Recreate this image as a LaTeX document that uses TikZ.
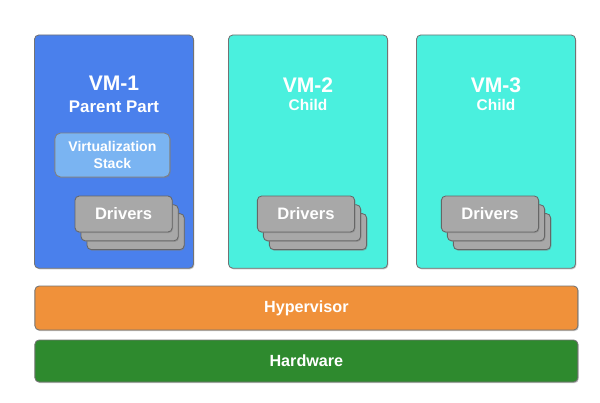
\documentclass[tikz,border=0pt]{standalone}
\usepackage{fontspec}
\setmainfont{Liberation Sans}
\usetikzlibrary{shadows}

\definecolor{vmblue}{RGB}{74,128,236}
\definecolor{vmcyan}{RGB}{74,240,222}
\definecolor{stackblue}{RGB}{122,180,242}
\definecolor{drvgray}{RGB}{168,168,168}
\definecolor{hvorange}{RGB}{240,145,58}
\definecolor{hwgreen}{RGB}{46,138,46}

\begin{document}
\begin{tikzpicture}[
  font=\bfseries, text=white,
  vm/.style={rectangle, rounded corners=3pt, draw=black!55, line width=0.6pt, minimum width=3.975cm, minimum height=5.83cm, drop shadow={shadow xshift=0.6pt, shadow yshift=-0.8pt, opacity=0.45}},
  card/.style={rectangle, rounded corners=3pt, draw=black!60, line width=0.6pt, fill=drvgray, minimum width=2.43cm, minimum height=0.9cm, font=\bfseries\fontsize{11.8}{13}\selectfont, drop shadow={shadow xshift=0.6pt, shadow yshift=-0.8pt, opacity=0.5}},
  layer/.style={rectangle, rounded corners=3pt, draw=black!55, line width=0.6pt, minimum width=13.575cm, font=\bfseries\fontsize{11.5}{13}\selectfont, drop shadow={shadow xshift=0.6pt, shadow yshift=-0.8pt, opacity=0.45}},
  title/.style={font=\bfseries\fontsize{15}{17}\selectfont},
  sub/.style={font=\bfseries\fontsize{11}{13}\selectfont}
]
\useasboundingbox (0,0) rectangle (15,-10.075);
% virtual machines
\node[vm, fill=vmblue] (vmone)   at (2.85,-3.79) {};
\node[vm, fill=vmcyan] (vmtwo)   at (7.70,-3.79) {};
\node[vm, fill=vmcyan] (vmthree) at (12.40,-3.79) {};
\node[title] (tone)   at (2.85,-2.08)  {VM-1};
\node[sub, font=\bfseries\fontsize{12}{14}\selectfont] (sone) at (2.85,-2.67) {Parent Part};
\node[title] (ttwo)   at (7.70,-2.12)  {VM-2};
\node[sub]   (stwo)   at (7.70,-2.63)  {Child};
\node[title] (tthree) at (12.40,-2.12) {VM-3};
\node[sub]   (sthree) at (12.40,-2.63) {Child};
\node[rectangle, rounded corners=4pt, draw=black!50, line width=0.6pt, fill=stackblue, minimum width=2.875cm, minimum height=1.1cm, align=center, font=\bfseries\fontsize{10}{11.5}\selectfont, drop shadow={shadow xshift=0.6pt, shadow yshift=-0.8pt, opacity=0.45}] (stack) at (2.81,-3.875) {Virtualization\\Stack};
% driver stacks
\foreach \cx/\nm in {3.09/one, 7.65/two, 12.25/three} {
  \node[card] (dthree\nm) at (\cx+0.30,-5.79) {};
  \node[card] (dtwo\nm)   at (\cx+0.15,-5.57) {};
  \node[card] (drv\nm)    at (\cx,-5.35)      {Drivers};
}
% layers
\node[layer, fill=hvorange, minimum height=1.1cm]  (hyper) at (7.66,-7.70)  {Hypervisor};
\node[layer, fill=hwgreen,  minimum height=1.05cm] (hw)    at (7.66,-9.025) {Hardware};
\end{tikzpicture}
\end{document}
